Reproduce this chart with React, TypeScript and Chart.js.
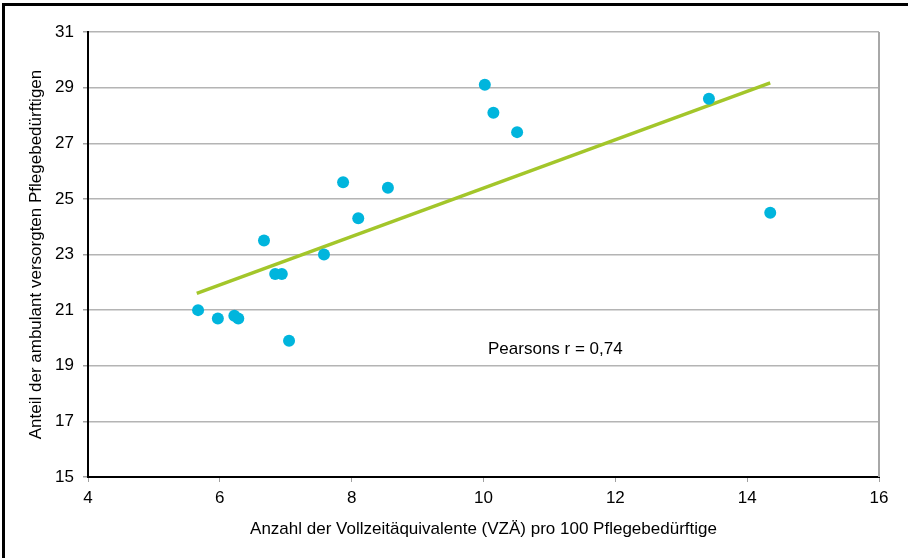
import React, { useEffect, useRef } from "react";
import { Chart, registerables } from "chart.js";

Chart.register(...registerables);

const xValues = [5.67, 5.97, 6.22, 6.28, 6.67, 6.84, 6.94, 7.05, 7.58, 7.87, 8.1, 8.55, 10.02, 10.15, 10.51, 13.42, 14.35];
const yValues = [21.0, 20.7, 20.8, 20.7, 23.5, 22.3, 22.3, 19.9, 23.0, 25.6, 24.3, 25.4, 29.1, 28.1, 27.4, 28.6, 24.5];
const trendX = [5.65, 14.35];
const trendY = [21.6, 29.17];
const xTicks = [4, 6, 8, 10, 12, 14, 16];
const yTicks = [15, 17, 19, 21, 23, 25, 27, 29, 31];
const noteText = "Pearsons r = 0,74";
const notePos = [11.09, 19.6];
const xTitle = "Anzahl der Vollzeitäquivalente (VZÄ) pro 100 Pflegebedürftige";
const yTitle = "Anteil der ambulant versorgten Pflegebedürftigen";

const FONT = "'Liberation Sans', Arial, sans-serif";
const FS = 17;

export default function App() {
  const ref = useRef<HTMLCanvasElement | null>(null);
  useEffect(() => {
    if (!ref.current) return;
    const decor = {
      id: "decor",
      afterDraw(chart: any) {
        const { ctx, chartArea } = chart;
        ctx.save();
        ctx.strokeStyle = "#a8a8a8";
        ctx.lineWidth = 2;
        ctx.beginPath();
        ctx.moveTo(chartArea.right, chartArea.top);
        ctx.lineTo(chartArea.right, chartArea.bottom);
        ctx.stroke();
        ctx.fillStyle = "#000";
        ctx.fillRect(2, 3, 906, 3);
        ctx.fillRect(2, 3, 3, 555);
        const xs = chart.scales.x;
        const ys = chart.scales.y;
        ctx.fillStyle = "#000";
        ctx.font = FS + "px " + FONT;
        ctx.textAlign = "center";
        ctx.textBaseline = "middle";
        ctx.fillText(noteText, xs.getPixelForValue(notePos[0]), ys.getPixelForValue(notePos[1]));
        ctx.restore();
      },
    };
    const chart = new Chart(ref.current, {
      type: "scatter",
      data: {
        datasets: [
          {
            type: "line",
            data: trendX.map((x, i) => ({ x, y: trendY[i] })),
            borderColor: "#a3c62a",
            borderWidth: 3.5,
            pointRadius: 0,
            order: 2,
          } as any,
          {
            data: xValues.map((x, i) => ({ x, y: yValues[i] })),
            backgroundColor: "#00b5dd",
            borderColor: "#00b5dd",
            pointRadius: 6,
            borderWidth: 0,
            order: 1,
          },
        ],
      },
      options: {
        animation: false,
        responsive: false,
        maintainAspectRatio: false,
        layout: { padding: { left: 0, right: 29, top: 32, bottom: 0 } },
        plugins: { legend: { display: false }, tooltip: { enabled: false } },
        scales: {
          x: {
            type: "linear",
            min: 4,
            max: 16,
            afterBuildTicks: (s: any) => {
              s.ticks = xTicks.map((v) => ({ value: v }));
            },
            afterFit: (s: any) => {
              s.height = 81;
            },
            grid: { drawOnChartArea: false, drawTicks: true, tickLength: 5, tickColor: "#a0a0a0" },
            border: { color: "#000", width: 2 },
            ticks: { color: "#000", font: { family: FONT, size: FS }, padding: 6 },
            title: {
              display: true,
              text: xTitle,
              color: "#000",
              font: { family: FONT, size: FS },
              padding: { top: 0, bottom: 18 },
            },
          },
          y: {
            type: "linear",
            min: 15,
            max: 31,
            afterBuildTicks: (s: any) => {
              s.ticks = yTicks.map((v) => ({ value: v }));
            },
            afterFit: (s: any) => {
              s.width = 88;
            },
            grid: { color: "#b4b4b4", lineWidth: 1.5, drawTicks: true, tickLength: 5, tickColor: "#a0a0a0" },
            border: { color: "#000", width: 2 },
            ticks: { color: "#000", font: { family: FONT, size: FS }, padding: 9 },
            title: {
              display: true,
              text: yTitle,
              color: "#000",
              font: { family: FONT, size: FS },
              padding: { top: 26, bottom: 0 },
            },
          },
        },
      },
      plugins: [decor],
    });
    return () => chart.destroy();
  }, []);
  return (
    <div style={{ position: "fixed", left: 0, top: 0, width: 908, height: 558, background: "#fff" }}>
      <canvas ref={ref} width={908} height={558} style={{ display: "block", width: 908, height: 558 }} />
    </div>
  );
}
